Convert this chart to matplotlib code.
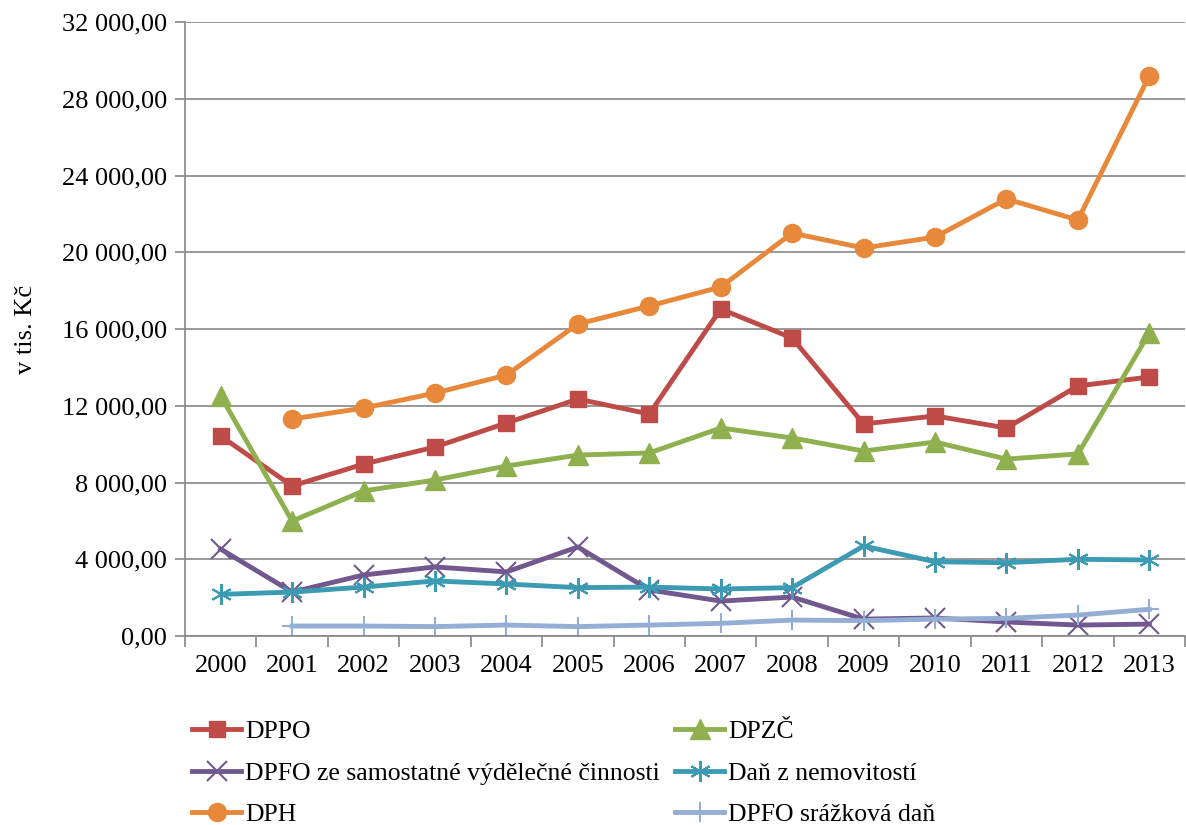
import numpy as np
import matplotlib.pyplot as plt
from matplotlib.ticker import FuncFormatter

plt.rcParams['font.family'] = ['Liberation Serif', 'DejaVu Serif']

years = ['2000', '2001', '2002', '2003', '2004', '2005', '2006',
         '2007', '2008', '2009', '2010', '2011', '2012', '2013']

# v tis. Kč, NaN = no value for that year
dppo = [10420, 7820, 8960, 9850, 11100, 12350, 11570, 17040, 15530, 11050, 11470, 10840, 13030, 13500]
dpzc = [12510, 5990, 7560, 8130, 8860, 9430, 9540, 10840, 10320, 9640, 10110, 9220, 9490, 15790]
dpfo_sam = [4530, 2290, 3180, 3600, 3340, 4640, 2400, 1820, 2030, 880, 940, 730, 570, 620]
dan_nem = [2170, 2290, 2550, 2870, 2710, 2520, 2550, 2450, 2520, 4690, 3870, 3820, 4000, 3960]
dph = [np.nan, 11310, 11880, 12660, 13600, 16260, 17200, 18190, 21000, 20220, 20790, 22780, 21680, 29190]
dpfo_sraz = [np.nan, 520, 520, 490, 570, 490, 570, 660, 830, 800, 880, 920, 1090, 1390]

series = [
    ('DPPO', dppo, '#BE4B48', 's', 12),
    ('DPFO ze samostatné výdělečné činnosti', dpfo_sam, '#71588F', 'x', 14),
    ('DPH', dph, '#E8883A', 'o', 13),
    ('DPZČ', dpzc, '#8FB04E', '^', 14),
    ('Daň z nemovitostí', dan_nem, '#3C9AB2', (6, 2, 0), 15),
    ('DPFO srážková daň', dpfo_sraz, '#94AED4', '+', 15),
]

fig = plt.figure(figsize=(11.86, 8.25), dpi=100)
ax = fig.add_axes([185 / 1186, 1 - 636 / 825, 1000 / 1186, 614 / 825])

x = np.arange(len(years))
for name, vals, col, mk, ms in series:
    ax.plot(x, vals, color=col, lw=3.5, marker=mk, markersize=ms,
            markeredgewidth=1.5 if mk in ('x', '+', (6, 2, 0)) else 1,
            markeredgecolor=col, label=name, solid_joinstyle='round')

ax.set_xlim(-0.5, len(years) - 0.5)
ax.set_ylim(0, 32000)
ax.set_yticks(np.arange(0, 32001, 4000))
ax.yaxis.set_major_formatter(FuncFormatter(
    lambda v, p: '{:,.2f}'.format(v).replace(',', ' ').replace('.', ',')))
ax.set_xticks(x)
ax.set_xticklabels(years)
ax.set_xticks(np.arange(-0.5, len(years), 1), minor=True)
ax.tick_params(axis='x', which='major', length=0, pad=14, labelsize=19)
ax.tick_params(axis='x', which='minor', length=8, color='#868686', width=1.2)
ax.tick_params(axis='y', length=7, color='#868686', width=1.2, labelsize=19, pad=6)

ax.grid(axis='y', color='#868686', lw=1.2)
ax.set_axisbelow(True)
for s in ['top', 'right']:
    ax.spines[s].set_visible(False)
for s in ['left', 'bottom']:
    ax.spines[s].set_color('#868686')
    ax.spines[s].set_linewidth(1.2)

ax.set_ylabel('v tis. Kč', fontsize=19, labelpad=18)

fig.legend(loc='upper left', bbox_to_anchor=(182 / 1186, 1 - 710 / 825),
           ncol=2, frameon=False, fontsize=18.5, handlelength=1.9,
           handletextpad=0.15, columnspacing=0.6, labelspacing=0.72,
           borderaxespad=0)

fig.savefig('out.png', dpi=100)
